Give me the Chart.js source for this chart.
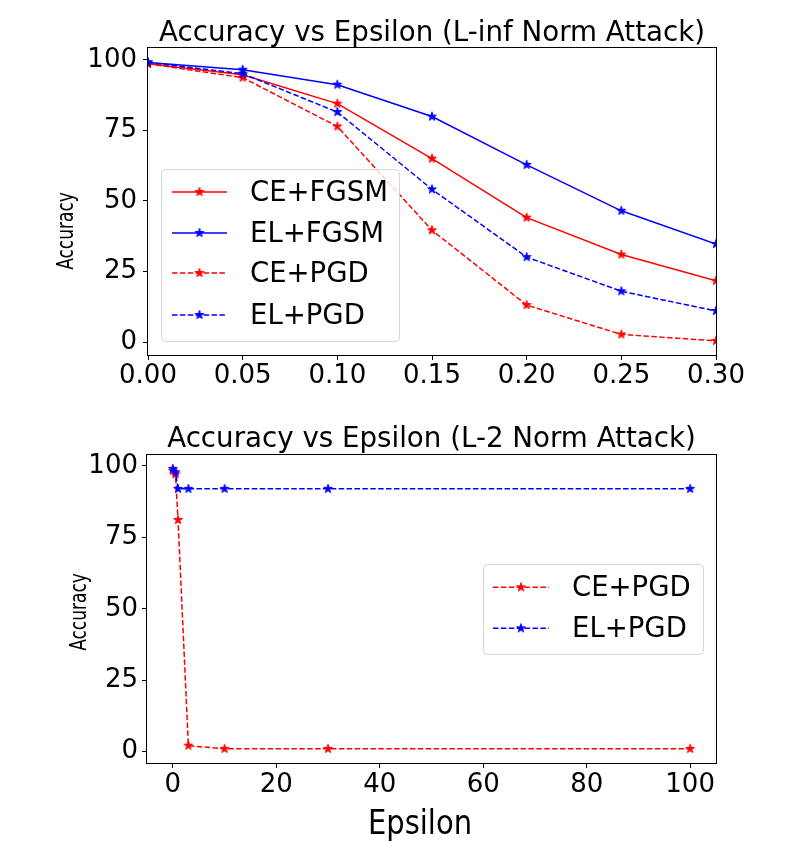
<!DOCTYPE html>
<html lang="en">
<head>
<meta charset="UTF-8">
<title>Accuracy vs Epsilon</title>
<script src="https://cdn.jsdelivr.net/npm/chart.js@4"></script>
<style>
  html, body { margin: 0; padding: 0; background: #fff; }
  #wrap { position: relative; width: 789px; height: 842px; }
  canvas { position: absolute; left: 0; }
  #top { top: 0; }
  #bottom { top: 400px; }
</style>
</head>
<body>
<div id="wrap">
  <canvas id="top" width="789" height="400"></canvas>
  <canvas id="bottom" width="789" height="442"></canvas>
</div>
<script>
// L-inf attack
const epsLinf = [0, 0.05, 0.10, 0.15, 0.20, 0.25, 0.30];
const ceFgsm = [98.6, 94.7, 84.5, 65.0, 44.1, 31.0, 21.7];
const elFgsm = [99.1, 96.5, 91.2, 79.9, 62.8, 46.5, 34.7];
const cePgd  = [98.6, 93.7, 76.4, 39.6, 13.1, 2.7, 0.4];
const elPgd  = [99.1, 95.1, 81.5, 54.1, 30.1, 18.0, 11.0];
const linfXTicks = [0, 0.05, 0.10, 0.15, 0.20, 0.25, 0.30];

// L-2 attack
const epsL2 = [0, 0.5, 1, 3, 10, 30, 100];
const cePgdL2 = [98.3, 97.1, 81.1, 2.1, 1.0, 1.0, 1.0];
const elPgdL2 = [99.0, 97.8, 92.0, 92.0, 92.0, 92.0, 92.0];
const l2XTicks = [0, 20, 40, 60, 80, 100];

const yTicks = [0, 25, 50, 75, 100];
const titleLinf = 'Accuracy vs Epsilon (L-inf Norm Attack)';
const titleL2 = 'Accuracy vs Epsilon (L-2 Norm Attack)';
const yLabel = 'Accuracy';
const xLabel = 'Epsilon';

Chart.defaults.font.family = 'DejaVu Sans';
Chart.defaults.color = '#000';

// filled star marker like matplotlib '*'
function star(color) {
  const c = document.createElement('canvas');
  c.width = 12; c.height = 12;
  const g = c.getContext('2d');
  g.beginPath();
  for (let i = 0; i < 10; i++) {
    const r = i % 2 ? 1.75 : 4.6;
    const a = -Math.PI / 2 + i * Math.PI / 5;
    g.lineTo(6 + r * Math.cos(a), 6 + r * Math.sin(a));
  }
  g.closePath();
  g.fillStyle = color; g.strokeStyle = color; g.lineWidth = 1;
  g.fill(); g.stroke();
  return c;
}
const redStar = star('#ff0000');
const blueStar = star('#0000ff');

function series(label, data, xs, color, marker, dashed, order) {
  return {
    label, order,
    data: data.map((v, i) => ({ x: xs[i], y: v })),
    borderColor: color, backgroundColor: color,
    borderWidth: 1.5,
    borderDash: dashed ? [5.5, 2.4] : [],
    pointStyle: marker, pointRadius: 4.5,
    tension: 0, fill: false, clip: 0
  };
}

function axis(min, max, ticks, fmt, pad, fitSize, isX) {
  return {
    type: 'linear', min, max,
    afterBuildTicks: s => { s.ticks = ticks.map(v => ({ value: v })); },
    afterFit: s => { if (isX) s.height = fitSize; else s.width = fitSize; },
    grid: { display: true, drawOnChartArea: false, drawTicks: true, tickLength: 5, color: '#000', lineWidth: 1 },
    border: { display: false },
    ticks: { color: '#000', font: { size: 26 }, padding: pad, autoSkip: false, maxRotation: 0, callback: fmt }
  };
}

const frame = {
  id: 'frame',
  afterDatasetsDraw(chart) {
    const a = chart.chartArea, ctx = chart.ctx;
    ctx.save();
    ctx.strokeStyle = '#000';
    ctx.lineWidth = 1;
    ctx.strokeRect(Math.round(a.left) - 0.5, Math.round(a.top) - 0.5,
      Math.round(a.right - a.left) + 1, Math.round(a.bottom - a.top) + 1);
    ctx.restore();
  }
};

const boxLegend = {
  id: 'boxLegend',
  afterDraw(chart, args, o) {
    const ctx = chart.ctx;
    ctx.save();
    ctx.beginPath();
    ctx.roundRect(o.x + 0.5, o.y + 0.5, o.w, o.h, 4);
    ctx.fillStyle = 'rgba(255,255,255,0.8)';
    ctx.fill();
    ctx.strokeStyle = 'rgba(204,204,204,0.8)';
    ctx.lineWidth = 1;
    ctx.stroke();
    chart.data.datasets.forEach((ds, i) => {
      const y = o.rows[i];
      ctx.beginPath();
      ctx.setLineDash(ds.borderDash);
      ctx.strokeStyle = ds.borderColor;
      ctx.lineWidth = ds.borderWidth;
      ctx.moveTo(o.x0, y); ctx.lineTo(o.x1, y);
      ctx.stroke();
      ctx.setLineDash([]);
      const img = ds.pointStyle;
      ctx.drawImage(img, (o.x0 + o.x1) / 2 - img.width / 2, y - img.height / 2);
      ctx.fillStyle = '#000';
      ctx.font = '27.5px "DejaVu Sans"';
      ctx.textAlign = 'left';
      ctx.textBaseline = 'middle';
      ctx.fillText(ds.label, o.tx, y + 2);
    });
    ctx.restore();
  }
};

const axisText = {
  id: 'axisText',
  afterDraw(chart, args, o) {
    const ctx = chart.ctx;
    o.items.forEach(t => {
      ctx.save();
      ctx.translate(t.x, t.y);
      ctx.rotate(t.rot || 0);
      ctx.scale(t.sx || 1, t.sy || 1);
      ctx.font = t.font;
      ctx.fillStyle = '#000';
      ctx.textAlign = 'center';
      ctx.textBaseline = 'alphabetic';
      ctx.fillText(t.text, 0, 0);
      ctx.restore();
    });
  }
};

const common = {
  responsive: false,
  animation: false,
  events: [],
  devicePixelRatio: 1
};

new Chart(document.getElementById('top'), {
  type: 'line',
  data: {
    datasets: [
      series('CE+FGSM', ceFgsm, epsLinf, '#ff0000', redStar, false, 3),
      series('EL+FGSM', elFgsm, epsLinf, '#0000ff', blueStar, false, 2),
      series('CE+PGD', cePgd, epsLinf, '#ff0000', redStar, true, 1),
      series('EL+PGD', elPgd, epsLinf, '#0000ff', blueStar, true, 0)
    ]
  },
  options: {
    ...common,
    layout: { padding: { left: 0, right: 73, top: 0, bottom: 0 } },
    scales: {
      x: axis(0, 0.3, linfXTicks, v => v.toFixed(2), 1, 45, true),
      y: axis(-4.6, 104.2, yTicks, v => String(v), 6, 148, false)
    },
    plugins: {
      legend: { display: false },
      tooltip: { enabled: false },
      title: {
        display: true, text: titleLinf, fullSize: false, color: '#000',
        font: { size: 27.7, weight: 'normal', lineHeight: 1 },
        padding: { top: 20.3, bottom: 0 }
      },
      boxLegend: { x: 161, y: 169, w: 238, h: 172, rows: [192, 233, 273, 315], x0: 172, x1: 227, tx: 250 },
      axisText: { items: [
        { text: yLabel, x: 73, y: 231, rot: -Math.PI / 2, sx: 0.74, font: '23px "DejaVu Sans"' }
      ] }
    }
  },
  plugins: [frame, boxLegend, axisText]
});

new Chart(document.getElementById('bottom'), {
  type: 'line',
  data: {
    datasets: [
      series('CE+PGD', cePgdL2, epsL2, '#ff0000', redStar, true, 1),
      series('EL+PGD', elPgdL2, epsL2, '#0000ff', blueStar, true, 0)
    ]
  },
  options: {
    ...common,
    layout: { padding: { left: 0, right: 73, top: 0, bottom: 0 } },
    scales: {
      x: axis(-5, 105, l2XTicks, v => String(v), 2, 79, true),
      y: axis(-3.96, 103.85, yTicks, v => String(v), 4, 147, false)
    },
    plugins: {
      legend: { display: false },
      tooltip: { enabled: false },
      title: {
        display: true, text: titleL2, fullSize: false, color: '#000',
        font: { size: 27.7, weight: 'normal', lineHeight: 1 },
        padding: { top: 26.4, bottom: 0.9 }
      },
      boxLegend: { x: 483, y: 164, w: 220, h: 90, rows: [187.3, 228.3], x0: 493, x1: 549, tx: 572 },
      axisText: { items: [
        { text: yLabel, x: 86, y: 212, rot: -Math.PI / 2, sx: 0.74, font: '23px "DejaVu Sans"' },
        { text: xLabel, x: 420, y: 434, sy: 1.16, font: '29px "DejaVu Sans"' }
      ] }
    }
  },
  plugins: [frame, boxLegend, axisText]
});
</script>
</body>
</html>
